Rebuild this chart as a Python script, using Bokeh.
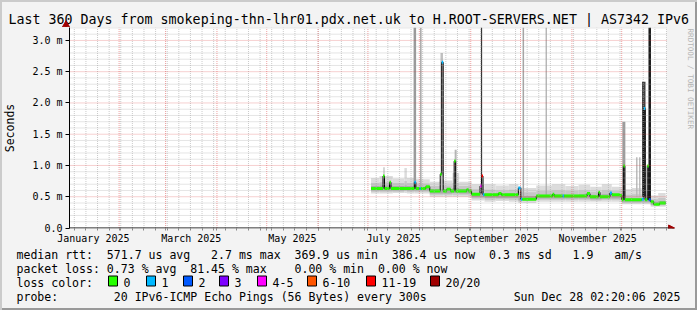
import re
from bokeh.plotting import figure
from bokeh.layouts import column
from bokeh.models import Label, FixedTicker, Arrow, NormalHead, Range1d
from bokeh.core.properties import value
from bokeh.embed import file_html
from bokeh.resources import INLINE

MONO = "DejaVu Sans Mono"

TITLE = "Last 360 Days from smokeping-thn-lhr01.pdx.net.uk to H.ROOT-SERVERS.NET | AS7342 IPv6"
Y_LABEL = "Seconds"
WATERMARK = "RRDTOOL / TOBI OETIKER"

# x values: days since 2025-01-01 00:00
X_START, X_END = 1.097, 361.097
Y_MAX = 3.207

month_labels = ["January 2025", "March 2025", "May 2025", "July 2025",
                "September 2025", "November 2025"]
month_label_day = [15.5, 74.5, 135.5, 196.5, 258.5, 319.5]
month_start_day = [31, 59, 90, 120, 151, 181, 212, 243, 273, 304, 334]
week_day = list(range(4, 362, 7))  # Sundays

y_ticks = [0.0, 0.5, 1.0, 1.5, 2.0, 2.5, 3.0]
y_tick_labels = ["0.0", "0.5 m", "1.0 m", "1.5 m", "2.0 m", "2.5 m", "3.0 m"]
y_minor = [round(i * 0.1, 1) for i in range(1, 33) if i % 5 != 0]

# smoke (ping distribution) in ms, step "after" from smoke_day[i] to smoke_day[i+1]
smoke_day = [182.9, 188.0, 196.0, 203.0, 204.5, 209.0, 218.3, 226.4, 232.0, 236.0,
             243.5, 251.3, 258.0, 266.0, 271.7, 274.1, 282.5, 292.0, 300.0, 308.0,
             315.0, 322.0, 328.0, 334.1, 340.0, 346.0, 351.5, 356.0, 360.5]
smoke_min = [.55, .55, .56, .56, .55, .55, .50, .50, .50, .50, .44, .42, .43, .42, .40,
             .40, .42, .42, .42, .42, .42, .42, .42, .38, .38, .38, .34, .34]
smoke_p10 = [.58, .58, .58, .59, .58, .58, .53, .53, .53, .53, .47, .45, .46, .45, .42,
             .43, .45, .45, .45, .45, .44, .45, .45, .40, .40, .40, .36, .36]
smoke_p25 = [.60, .60, .60, .61, .60, .60, .55, .55, .56, .55, .49, .48, .48, .48, .44,
             .45, .47, .47, .47, .47, .46, .47, .47, .42, .42, .42, .37, .38]
smoke_p75 = [.67, .68, .67, .68, .67, .66, .62, .62, .64, .62, .56, .55, .55, .55, .51,
             .51, .53, .54, .53, .54, .53, .54, .53, .48, .48, .48, .42, .43]
smoke_p90 = [.72, .73, .72, .75, .72, .71, .67, .68, .72, .67, .62, .61, .60, .61, .58,
             .57, .59, .60, .59, .60, .58, .60, .59, .53, .54, .53, .46, .48]
smoke_max = [.80, .83, .79, .96, .80, .78, .74, .76, .88, .74, .70, .70, .68, .70, .66,
             .64, .68, .70, .67, .69, .66, .70, .66, .62, .64, .60, .52, .56]

# single-sample excursions of the ping maximum (3.207 = off the top of the graph)
spike_day = [190.7, 209.3, 212.9, 225.5, 233.9, 249.5, 274.7, 288.5, 335.3, 343.1,
             344.9, 347.3, 350.9]
spike_base = [0.70, 0.65, 0.65, 0.65, 0.65, 0.55, 0.50, 0.50, 0.50, 0.50, 0.50, 0.50, 0.45]
spike_top = [0.97, 3.207, 3.207, 2.80, 1.25, 3.207, 3.207, 3.207, 1.70, 1.13, 1.13, 2.34,
             3.207]
spike_color = ["#c8c8c8", "#9a9a9a", "#a8a8a8", "#c0c0c0", "#b5b5b5", "#303030",
               "#a5a5a5", "#a8a8a8", "#9c9c9c", "#bbbbbb", "#bbbbbb", "#404040", "#1a1a1a"]
spike_px = [1.5, 2.5, 1.5, 2.5, 2, 1.2, 1.5, 1.2, 3, 1.5, 1.5, 3.5, 2.5]

# median rtt (ms) and packet-loss bucket, step "after"
med_day = [182.9, 190.1, 191.0, 194.0, 194.9, 209.0, 209.9, 212.0, 212.9, 215.9,
           218.3, 224.6, 225.5, 226.4, 228.5, 230.9, 233.0, 233.9, 240.5, 241.7,
           243.5, 248.6, 249.5, 250.4, 251.3, 259.7, 261.5, 271.7, 273.2, 274.1,
           282.5, 292.4, 293.3, 298.4, 299.3, 313.1, 314.9, 320.0, 320.9, 326.9,
           328.1, 332.9, 334.1, 335.0, 335.9, 346.1, 347.3, 348.2, 349.4, 350.3,
           351.5, 353.3, 356.9]
med_val = [0.63, 0.83, 0.63, 0.73, 0.63, 0.73, 0.63, 0.63, 0.63, 0.66,
           0.59, 0.86, 2.65, 0.59, 0.62, 0.59, 1.07, 0.59, 0.61, 0.59,
           0.54, 0.67, 0.83, 0.53, 0.53, 0.55, 0.53, 0.64, 0.46, 0.46,
           0.51, 0.54, 0.51, 0.51, 0.51, 0.55, 0.50, 0.57, 0.50, 0.56,
           0.53, 0.52, 0.45, 0.99, 0.45, 0.46, 1.91, 0.45, 0.99, 0.45,
           0.42, 0.38, 0.40]
med_loss = [0, 0, 0, 0, 0, 1, 0, 1, 0, 0,
            0, 0, 1, 0, 0, 0, 0, 0, 0, 0,
            0, 4, 6, 1, 0, 0, 0, 1, 1, 0,
            0, 0, 0, 1, 0, 0, 0, 0, 0, 1,
            0, 0, 0, 0, 0, 1, 1, 0, 0, 2,
            0, 0, 0]
MED_END = 360.5

loss_labels = ["0", "1", "2", "3", "4-5", "6-10", "11-19", "20/20"]
loss_colors = ["#26ff00", "#00b8ff", "#0059ff", "#7e00ff", "#ff00ff", "#ff5500",
               "#ff0000", "#a10000"]

stat_lines = [
    "median rtt:  571.7 us avg   2.7 ms max  369.9 us min  386.4 us now  0.3 ms sd   1.9   am/s",
    "packet loss: 0.73 % avg  81.45 % max    0.00 % min  0.00 % now",
]
loss_title = "loss color:"
probe_line = "probe:        20 IPv6-ICMP Echo Pings (56 Bytes) every 300s"
stamp = "Sun Dec 28 02:20:06 2025"

# ---------------------------------------------------------------- geometry
W, H = 697, 310
HEAD_H = 27               # canvas y of the graph top
FL, FB = 66, 228          # frame left / bottom (canvas px)
FOOT_TOP = 248
PX_DAY, PX_MS = 1.66667, 62.67
X_RIGHT = X_START + (695 - FL) / PX_DAY
Y_BOT = -0.5 / PX_MS


def strip(height, top):
    s = figure(width=W, height=height, x_range=Range1d(0, W),
               y_range=Range1d(top + height, top), output_backend="svg",
               toolbar_location=None, title=None, x_axis_type=None,
               y_axis_type=None, min_border=0)
    s.background_fill_color = None
    s.border_fill_color = None
    s.outline_line_color = None
    s.xgrid.visible = False
    s.ygrid.visible = False
    return s


# ---------------------------------------------------------------- header strip
hd = strip(HEAD_H, 0)
hd.text(x=[8], y=[18.6], text=[TITLE], text_font=value(MONO),
        text_font_size=value("13.3px"), text_baseline="middle",
        text_align="left", text_color="#000000")
hd.segment(x0=[FL - 0.5], x1=[FL - 0.5], y0=[HEAD_H], y1=[24], line_color="#000000",
           line_width=1)
hd.scatter(x=[FL - 0.5], y=[24.3], marker="triangle", size=7, fill_color="#a00000",
           line_color="#a00000")

# ---------------------------------------------------------------- main graph
p = figure(width=W, height=FOOT_TOP - HEAD_H, x_range=(X_START, X_RIGHT),
           y_range=(Y_BOT, Y_MAX), output_backend="svg", toolbar_location=None,
           title=None, min_border_left=FL, min_border_right=2, min_border_top=0,
           min_border_bottom=FOOT_TOP - FB)
p.background_fill_color = None
p.border_fill_color = None
p.outline_line_color = None
p.xgrid.visible = False
p.ygrid.visible = False

# white graph canvas
p.quad(left=[X_START], right=[X_END], bottom=[0], top=[Y_MAX],
       fill_color="#ffffff", line_color=None)

# smoke
shades = [("#dcdcdc", smoke_min, smoke_max), ("#c6c6c6", smoke_p10, smoke_p90),
          ("#aaaaaa", smoke_p25, smoke_p75)]
for col, lo, hi in shades:
    p.quad(left=smoke_day[:-1], right=smoke_day[1:], bottom=lo, top=hi,
           fill_color=col, line_color=None)

p.segment(x0=spike_day, x1=spike_day, y0=spike_base, y1=spike_top,
          line_color=spike_color, line_width=spike_px)

# median
xs = med_day + [MED_END]
ys = med_val + [med_val[-1]]
p.step(x=xs, y=ys, mode="after", line_color="#000000", line_width=1)
p.segment(x0=med_day, x1=xs[1:], y0=med_val, y1=med_val,
          line_color=[loss_colors[i] for i in med_loss], line_width=3)

# grid on top
GRAY, RED = "#a8a8a8", "#e04848"
p.segment(x0=week_day, x1=week_day, y0=[0] * len(week_day), y1=[Y_MAX] * len(week_day),
          line_color=GRAY, line_width=1, line_dash="1 1", line_alpha=0.6)
p.segment(x0=[X_START] * len(y_minor), x1=[X_END] * len(y_minor), y0=y_minor, y1=y_minor,
          line_color=GRAY, line_width=1, line_dash="1 1", line_alpha=0.6)
p.segment(x0=month_start_day, x1=month_start_day, y0=[0] * len(month_start_day),
          y1=[Y_MAX] * len(month_start_day), line_color=RED, line_width=1,
          line_dash="1 1", line_alpha=0.5)
p.segment(x0=[X_START] * 6, x1=[X_END] * 6, y0=y_ticks[1:], y1=y_ticks[1:],
          line_color=RED, line_width=1, line_dash="1 1", line_alpha=0.5)

# axes
xa = p.xaxis[0]
xa.ticker = FixedTicker(ticks=month_label_day, minor_ticks=month_start_day + week_day)
xa.major_label_overrides = {d: s for d, s in zip(month_label_day, month_labels)}
xa.axis_line_color = None
xa.major_tick_line_color = None
xa.major_tick_out = 0
xa.minor_tick_out = 2
xa.minor_tick_in = 0
xa.minor_tick_line_color = "#888888"
xa.major_label_standoff = 2
ya = p.yaxis[0]
ya.ticker = FixedTicker(ticks=y_ticks, minor_ticks=y_minor)
ya.major_label_overrides = {t: s for t, s in zip(y_ticks, y_tick_labels)}
ya.axis_line_color = "#000000"
ya.major_tick_out = 4
ya.major_tick_in = 0
ya.minor_tick_out = 0
ya.minor_tick_in = 0
ya.major_label_standoff = 3
ya.axis_label = Y_LABEL
ya.axis_label_text_font = MONO
ya.axis_label_text_font_size = "11.5px"
ya.axis_label_text_font_style = "normal"
ya.axis_label_text_color = "#000000"
ya.axis_label_standoff = 12
for ax in (xa, ya):
    ax.major_label_text_font = MONO
    ax.major_label_text_font_size = "10px"
    ax.major_label_text_color = "#000000"

p.add_layout(Arrow(end=NormalHead(size=6, fill_color="#a00000", line_color="#a00000"),
                   x_start=X_START - 2.5, y_start=0,
                   x_end=X_START + (674 - FL) / PX_DAY, y_end=0,
                   line_color="#000000", line_width=1))

p.add_layout(Label(x=687 - FL, y=(FB - HEAD_H) - 1, x_units="screen", y_units="screen",
                   text=WATERMARK, text_font=MONO, text_font_size="7.6px",
                   text_align="left", text_baseline="middle", angle=-1.5708,
                   text_color="#b5b5b5"))

# ---------------------------------------------------------------- legend strip
ft = strip(H - FOOT_TOP, FOOT_TOP)
CW = 6.95     # monospace advance at 11.55px
X0 = 16
MID = [254.3, 268.3, 282.3, 296.3]   # text line centres
FS = "11.55px"


def chunks(s):
    return [(m.start(), m.group()) for m in re.finditer(r"\S+(?: \S+)*", s)]


tx, ty, tt = [], [], []
for line, mid in zip(stat_lines + [probe_line], [MID[0], MID[1], MID[3]]):
    for col, word in chunks(line):
        tx.append(X0 + col * CW)
        ty.append(mid)
        tt.append(word)
tx.append(X0)
ty.append(MID[2])
tt.append(loss_title)
box_x = [108, 146, 183, 219, 257, 307, 366, 430]
for bx, l in zip(box_x, loss_labels):
    tx.append(bx + 15)
    ty.append(MID[2])
    tt.append(l)
ft.text(x=tx, y=ty, text=tt, text_font=value(MONO), text_font_size=value(FS),
        text_baseline="middle", text_align="left", text_color="#000000")
ft.text(x=[680], y=[MID[3]], text=[stamp], text_font=value(MONO),
        text_font_size=value(FS), text_baseline="middle", text_align="right",
        text_color="#000000")
ft.quad(left=box_x, right=[b + 9 for b in box_x], top=[MID[2] - 6.8] * 8,
        bottom=[MID[2] + 3.2] * 8, fill_color=loss_colors, line_color="#000000",
        line_width=1)

for fig in (hd, p, ft):
    if "frame_align" in fig.properties():
        fig.frame_align = False

layout = column(hd, p, ft, spacing=0)
layout.styles = {"background-color": "#f3f3f3",
                 "box-shadow": "inset 2px 2px 0 0 #cbcbcb, inset -2px -2px 0 0 #999999"}

open("out.html", "w").write(file_html(layout, INLINE))
